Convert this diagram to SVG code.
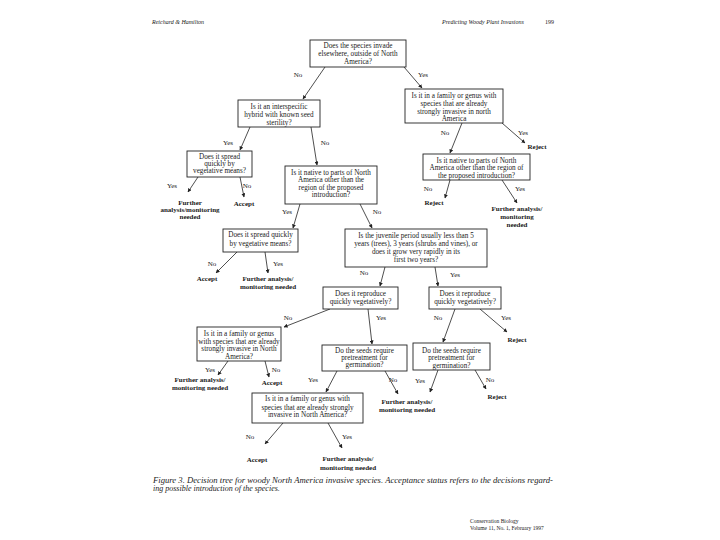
<svg xmlns="http://www.w3.org/2000/svg" width="720" height="540" viewBox="0 0 720 540">
<style>
text{font-family:"Liberation Serif","Times New Roman",serif;fill:#1a1a1a}
.b text{font-size:7.2px;text-anchor:middle}
.b rect{fill:#fff;stroke:#222;stroke-width:0.9}
.o text{font-size:7px;font-weight:bold;text-anchor:middle}
.l{font-size:7px;text-anchor:middle}
.e line{stroke:#222;stroke-width:0.8;marker-end:url(#ah)}
.hd{font-size:6px;font-style:italic}
.cap{font-size:8px;font-style:italic}
.ft{font-size:5.5px}
</style>
<defs>
<marker id="ah" viewBox="0 0 10 10" refX="9" refY="5" markerWidth="4" markerHeight="4" orient="auto" markerUnits="userSpaceOnUse">
<path d="M0,0L10,5L0,10z" fill="#222"/>
</marker>
</defs>
<rect width="720" height="540" fill="#fff"/>
<g id="header">
<text class="hd" x="152" y="24">Reichard &amp; Hamilton</text>
<text class="hd" x="442" y="24">Predicting Woody Plant Invasions</text>
<text class="ft" x="545" y="24" style="font-size:6px">199</text>
</g>
<g id="connectors" class="e">
<line x1="325" y1="67" x2="303" y2="99"/>
<line x1="404" y1="67" x2="422" y2="88"/>
<line x1="250" y1="127" x2="240" y2="150"/>
<line x1="311" y1="127" x2="317" y2="165"/>
<line x1="198" y1="177" x2="188" y2="192"/>
<line x1="240" y1="177" x2="244" y2="197"/>
<line x1="300" y1="204" x2="293" y2="228"/>
<line x1="360" y1="204" x2="372" y2="228"/>
<line x1="462" y1="123" x2="450" y2="153"/>
<line x1="502" y1="123" x2="525" y2="143"/>
<line x1="450" y1="180" x2="445" y2="198"/>
<line x1="502" y1="180" x2="517" y2="203"/>
<line x1="237" y1="252" x2="216" y2="273"/>
<line x1="265" y1="252" x2="268" y2="273"/>
<line x1="385" y1="267" x2="380" y2="286"/>
<line x1="435" y1="267" x2="438" y2="286"/>
<line x1="330" y1="309" x2="284" y2="327"/>
<line x1="368" y1="309" x2="372" y2="344"/>
<line x1="455" y1="309" x2="443" y2="342"/>
<line x1="480" y1="309" x2="507" y2="332"/>
<line x1="228" y1="361" x2="218" y2="375"/>
<line x1="265" y1="361" x2="269" y2="377"/>
<line x1="337" y1="371" x2="326" y2="392"/>
<line x1="385" y1="371" x2="398" y2="394"/>
<line x1="438" y1="370" x2="430" y2="392"/>
<line x1="475" y1="370" x2="486" y2="389"/>
<line x1="283" y1="423" x2="265" y2="444"/>
<line x1="328" y1="423" x2="342" y2="448"/>
</g>
<g id="edge-labels">
<text class="l" x="298" y="77">No</text><text class="l" x="423" y="77">Yes</text>
<text class="l" x="228" y="145">Yes</text><text class="l" x="325" y="145">No</text>
<text class="l" x="172" y="188">Yes</text><text class="l" x="247" y="188">No</text>
<text class="l" x="287" y="214">Yes</text><text class="l" x="377" y="214">No</text>
<text class="l" x="445" y="135">No</text><text class="l" x="523" y="135">Yes</text>
<text class="l" x="428" y="191">No</text><text class="l" x="520" y="191">Yes</text>
<text class="l" x="212" y="266">No</text><text class="l" x="278" y="266">Yes</text>
<text class="l" x="364" y="275">No</text><text class="l" x="455" y="277">Yes</text>
<text class="l" x="288" y="320">No</text><text class="l" x="381" y="320">Yes</text>
<text class="l" x="438" y="320">No</text><text class="l" x="506" y="320">Yes</text>
<text class="l" x="210" y="372">Yes</text><text class="l" x="276" y="372">No</text>
<text class="l" x="313" y="382">Yes</text><text class="l" x="393" y="382">No</text>
<text class="l" x="420" y="383">Yes</text><text class="l" x="490" y="382">No</text>
<text class="l" x="250" y="439">No</text><text class="l" x="347" y="439">Yes</text>
</g>
<g id="q-invade" class="b"><rect x="310" y="40" width="96" height="27"/>
<text x="358" y="48">Does the species invade</text><text x="358" y="56">elsewhere, outside of  North</text><text x="358" y="64">America?</text></g>
<g id="q-hybrid" class="b"><rect x="238" y="100" width="82" height="27"/>
<text x="279" y="109">Is it an interspecific</text><text x="279" y="117">hybrid with known seed</text><text x="279" y="124.5">sterility?</text></g>
<g id="q-spread1" class="b"><rect x="187" y="151" width="65" height="26"/>
<text x="219.5" y="158.5">Does it spread</text><text x="219.5" y="165.5">quickly by</text><text x="219.5" y="172.5">vegetative means?</text></g>
<g id="q-native1" class="b"><rect x="285" y="166" width="92" height="38"/>
<text x="331" y="174.5">Is it native to parts of North</text><text x="331" y="182">America other than the</text><text x="331" y="189.5">region of the proposed</text><text x="331" y="197">introduction?</text></g>
<g id="q-family1" class="b"><rect x="405" y="89" width="98" height="34"/>
<text x="454" y="97.5">Is it in a family or genus with</text><text x="454" y="105.5">species that are already</text><text x="454" y="113.5">strongly invasive in north</text><text x="454" y="120.5">America</text></g>
<g id="q-native2" class="b"><rect x="423" y="154" width="107" height="26"/>
<text x="476.5" y="162.5">Is it native to parts of North</text><text x="476.5" y="170">America other than the region of</text><text x="476.5" y="177.5">the proposed introduction?</text></g>
<g id="q-spread2" class="b"><rect x="223" y="229" width="75" height="23"/>
<text x="260.5" y="237">Does it spread quickly</text><text x="260.5" y="245.5">by vegetative  means?</text></g>
<g id="q-juvenile" class="b"><rect x="345" y="229" width="142" height="38"/>
<text x="416" y="238">Is the juvenile period usually less than  5</text><text x="416" y="246">years (trees), 3 years (shrubs and vines), or</text><text x="416" y="254">does it grow very rapidly in its</text><text x="416" y="262">first two years?</text></g>
<g id="q-repro1" class="b"><rect x="323" y="287" width="75" height="22"/>
<text x="360.5" y="296">Does it reproduce</text><text x="360.5" y="303.5">quickly vegetatively?</text></g>
<g id="q-repro2" class="b"><rect x="429" y="287" width="72" height="22"/>
<text x="465" y="296">Does it reproduce</text><text x="465" y="303.5">quickly vegetatively?</text></g>
<g id="q-family2" class="b"><rect x="197" y="327" width="84" height="34"/>
<text x="239" y="336">Is it in a family or genus</text><text x="239" y="343.5">with species that are already</text><text x="239" y="351">strongly invasive in North</text><text x="239" y="358.5">America?</text></g>
<g id="q-seeds1" class="b"><rect x="322" y="345" width="85" height="26"/>
<text x="364.5" y="352.5">Do the seeds require</text><text x="364.5" y="360">pretreatment for</text><text x="364.5" y="367">germination?</text></g>
<g id="q-seeds2" class="b"><rect x="413" y="343" width="77" height="27"/>
<text x="451.5" y="352.5">Do the seeds require</text><text x="451.5" y="360">pretreatment for</text><text x="451.5" y="367.5">germination?</text></g>
<g id="q-family3" class="b"><rect x="252" y="393" width="111" height="30"/>
<text x="307.5" y="401">Is it in a family or genus with</text><text x="307.5" y="409.5">species that are already strongly</text><text x="307.5" y="417">invasive in North America?</text></g>
<g id="o-further1" class="o"><text x="190" y="205">Further</text><text x="190" y="212">analysis/monitoring</text><text x="190" y="219">needed</text></g>
<g id="o-accept1" class="o"><text x="244" y="206">Accept</text></g>
<g id="o-reject1" class="o"><text x="537" y="149">Reject</text></g>
<g id="o-reject2" class="o"><text x="434" y="205">Reject</text></g>
<g id="o-further2" class="o"><text x="517" y="211">Further analysis/</text><text x="517" y="219">monitoring</text><text x="517" y="227">needed</text></g>
<g id="o-accept2" class="o"><text x="207" y="281">Accept</text></g>
<g id="o-further3" class="o"><text x="268" y="281">Further analysis/</text><text x="268" y="289">monitoring needed</text></g>
<g id="o-reject3" class="o"><text x="517" y="342">Reject</text></g>
<g id="o-further4" class="o"><text x="200" y="382">Further analysis/</text><text x="200" y="390">monitoring needed</text></g>
<g id="o-accept3" class="o"><text x="272" y="385">Accept</text></g>
<g id="o-further5" class="o"><text x="407" y="404">Further analysis/</text><text x="407" y="412">monitoring needed</text></g>
<g id="o-reject4" class="o"><text x="497" y="399">Reject</text></g>
<g id="o-accept4" class="o"><text x="257" y="462">Accept</text></g>
<g id="o-further6" class="o"><text x="348" y="461">Further analysis/</text><text x="348" y="470">monitoring needed</text></g>
<g id="caption">
<text class="cap" x="153" y="483" textLength="400" lengthAdjust="spacingAndGlyphs">Figure 3.  Decision tree for woody North America invasive species. Acceptance status refers to the decisions regard-</text>
<text class="cap" x="153" y="491">ing possible introduction of the species.</text>
</g>
<g id="footer">
<text class="ft" x="470" y="523">Conservation Biology</text>
<text class="ft" x="470" y="530">Volume 11, No. 1, February 1997</text>
</g>
</svg>
